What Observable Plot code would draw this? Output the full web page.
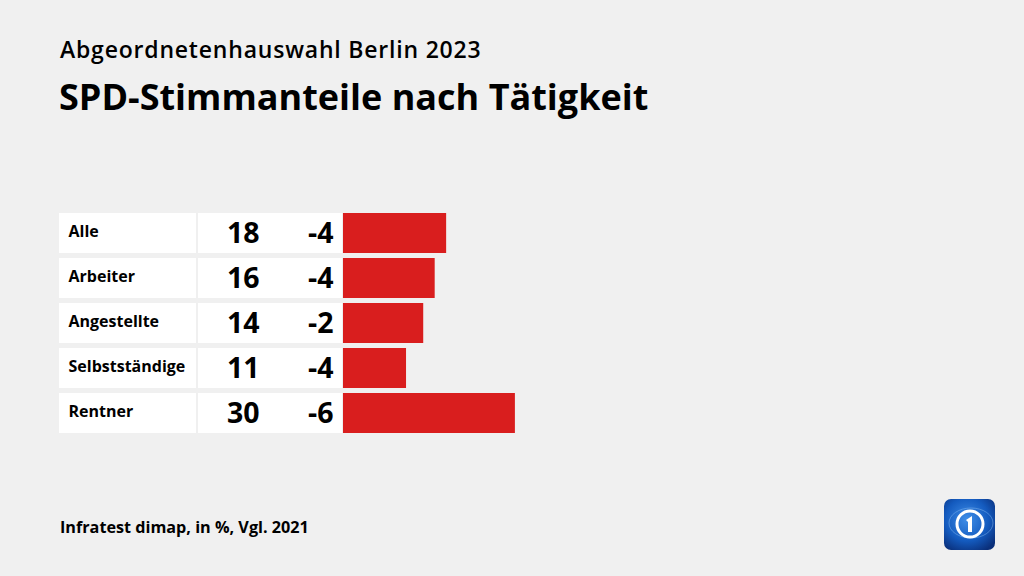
<!DOCTYPE html>
<html><head><meta charset="utf-8">
<script src="https://cdn.jsdelivr.net/npm/d3@7"></script>
<script src="https://cdn.jsdelivr.net/npm/@observablehq/plot@0.6"></script>
<style>
html,body{margin:0;padding:0;background:#f0f0f0;}
#wrap{position:relative;width:1024px;height:576px;overflow:hidden;font-family:"Open Sans",sans-serif;color:#000;}
.t1{position:absolute;left:60px;top:33px;font-size:23px;font-weight:600;letter-spacing:0.8px;}
.t2{position:absolute;left:59px;top:72px;font-size:36px;font-weight:700;letter-spacing:0px;}
.cap{position:absolute;left:60px;top:516px;font-size:16.2px;font-weight:700;letter-spacing:0px;}
#chart{position:absolute;left:0;top:0;}
#logo{position:absolute;left:944px;top:499px;}
</style></head>
<body><div id="wrap">
<div class="t1">Abgeordnetenhauswahl Berlin 2023</div>
<div class="t2">SPD-Stimmanteile nach Tätigkeit</div>
<div id="chart"></div>
<div class="cap">Infratest dimap, in %, Vgl. 2021</div>
<svg id="logo" width="51" height="51" viewBox="0 0 51 51">
<defs><radialGradient id="g" cx="0.45" cy="0.4" r="0.7"><stop offset="0" stop-color="#3f8ee8"/><stop offset="0.6" stop-color="#145bbf"/><stop offset="1" stop-color="#0a2f7a"/></radialGradient></defs>
<rect x="0" y="0" width="51" height="51" rx="7" fill="url(#g)"/>
<ellipse cx="27" cy="24" rx="22" ry="15" fill="none" stroke="#7fb6f0" stroke-width="1" opacity="0.5"/>
<circle cx="26" cy="25" r="13" fill="none" stroke="#fff" stroke-width="3"/>
<path d="M22 21 L28 17 L28 33 L24 33 L24 23 Z" fill="#fff"/>
</svg>
</div>
<script>
const categories = ["Alle","Arbeiter","Angestellte","Selbstständige","Rentner"];
const shares = [18,16,14,11,30];
const changes = [-4,-4,-2,-4,-6];
const changeLabels = ["-4","-4","-2","-4","-6"];

const data = categories.map((c,i)=>({cat:c, share:shares[i], change:changes[i], changeLabel:changeLabels[i]}));

const plot = Plot.plot({
  width:1024, height:576,
  marginTop:0, marginBottom:0, marginLeft:0, marginRight:0,
  style:{background:"transparent", fontFamily:"Open Sans, sans-serif"},
  x:{domain:[0,100], range:[343,916], axis:null},
  y:{type:"band", domain:categories, range:[212,433], paddingInner:0.116, paddingOuter:0, axis:null},
  marks:[
    Plot.barX(data,{y:"cat", x1:0, x2:0, insetLeft:-284, insetRight:147, fill:"#ffffff"}),
    Plot.barX(data,{y:"cat", x1:0, x2:0, insetLeft:-145, insetRight:1, fill:"#ffffff"}),
    Plot.barX(data,{y:"cat", x1:0, x2:"share", fill:"#d91e1e"}),
    Plot.text(data,{y:"cat", x:0, dx:-275, dy:-1.5, text:"cat", textAnchor:"start", fontSize:16, fontWeight:700, fill:"#000"}),
    Plot.text(data,{y:"cat", x:0, dx:-84, text:d=>String(d.share), textAnchor:"end", fontSize:28.5, fontWeight:700, fill:"#000"}),
    Plot.text(data,{y:"cat", x:0, dx:-10, text:"changeLabel", textAnchor:"end", fontSize:28.5, fontWeight:700, fill:"#000"})
  ]
});
document.getElementById("chart").appendChild(plot);
</script>
</body></html>
